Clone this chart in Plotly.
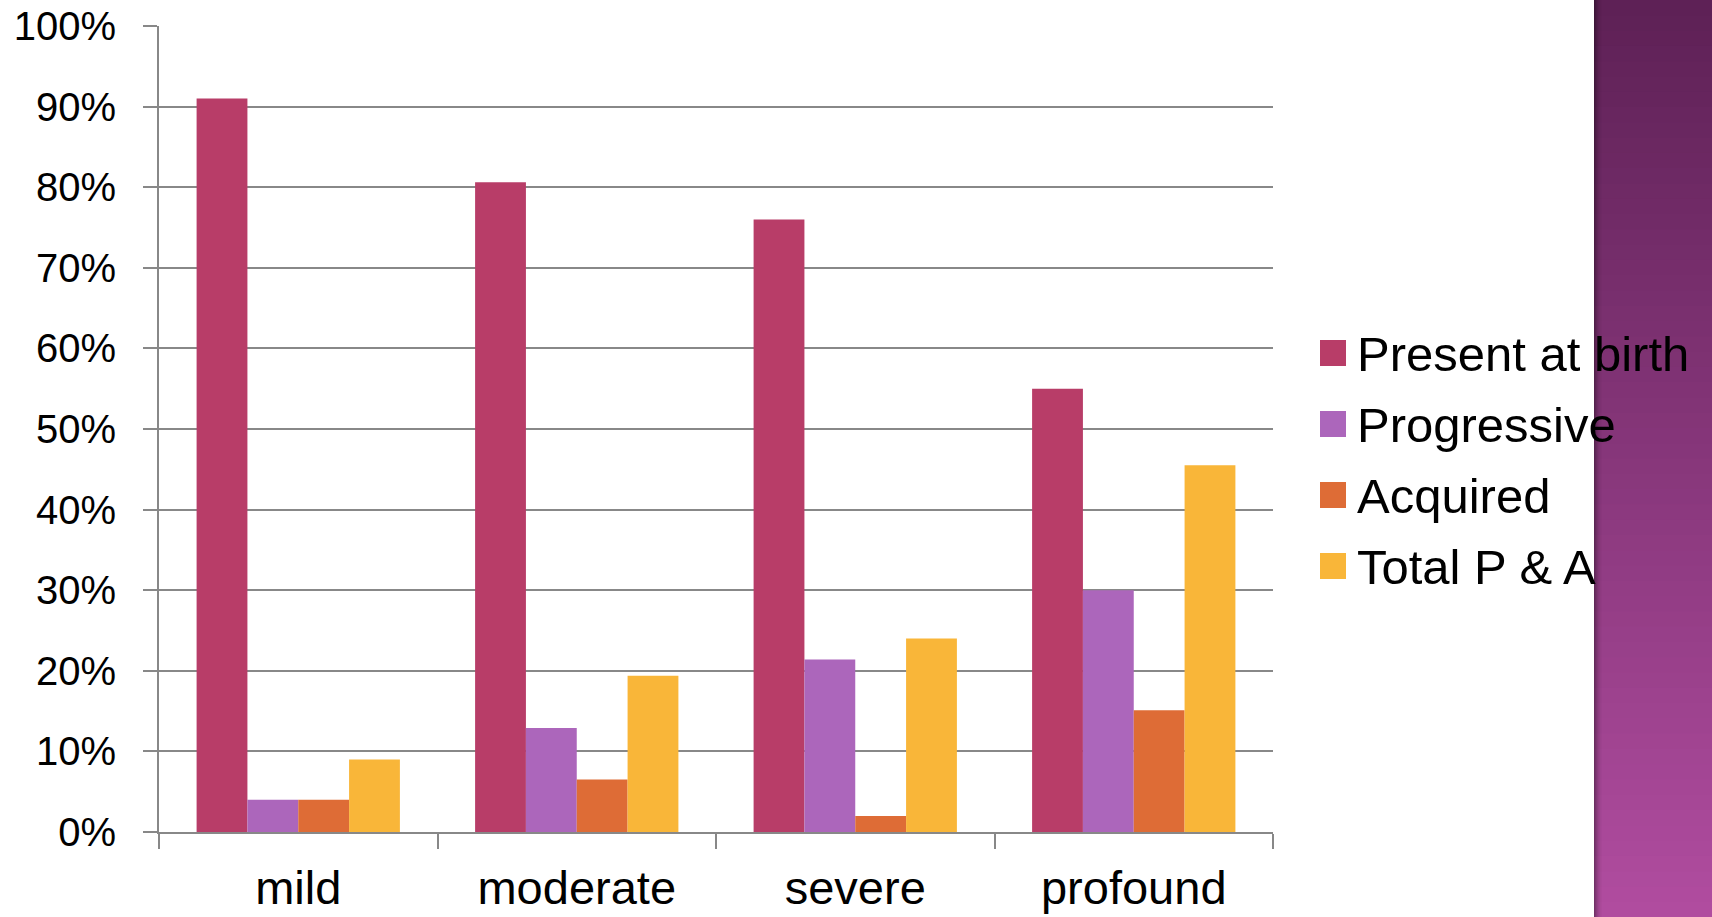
import plotly.graph_objects as go

categories = ["mild", "moderate", "severe", "profound"]
series_names = ["Present at birth", "Progressive", "Acquired", "Total P & A"]
present_at_birth = [0.91, 0.806, 0.76, 0.55]
progressive = [0.04, 0.129, 0.214, 0.30]
acquired = [0.04, 0.065, 0.02, 0.151]
total_p_a = [0.09, 0.194, 0.24, 0.455]
colors = ["#B83D68", "#AC66BB", "#DE6C36", "#F9B639"]
y_ticks = [i / 10 for i in range(11)]

W, H = 1712, 917
L, R, T, B = 159, 439, 26, 85
PW, PH = W - L - R, H - T - B


def px_x(p):
    return (p - L) / PW


def px_y(p):
    return (H - B - p) / PH


fig = go.Figure()
for name, vals, col in zip(series_names, [present_at_birth, progressive, acquired, total_p_a], colors):
    fig.add_trace(go.Bar(x=categories, y=vals, name=name, marker=dict(color=col, line=dict(width=0)),
                         showlegend=False))

shapes = []
# purple gradient band on the right
top = (0x5E, 0x21, 0x56)
bot = (0xB0, 0x4C, 0x9F)
n = 60
for i in range(n):
    t = i / (n - 1)
    c = tuple(int(round(top[k] + (bot[k] - top[k]) * t)) for k in range(3))
    y0 = i * H / n
    y1 = (i + 1) * H / n + 1
    shapes.append(dict(type="rect", xref="paper", yref="paper", x0=px_x(1594), x1=px_x(1713),
                       y0=px_y(y1), y1=px_y(y0), fillcolor="rgb(%d,%d,%d)" % c, line=dict(width=0),
                       layer="below"))
# shadow at left edge of band
for j, a in enumerate([0.35, 0.28, 0.22, 0.16, 0.11, 0.07, 0.04, 0.02]):
    shapes.append(dict(type="rect", xref="paper", yref="paper", x0=px_x(1594 + j), x1=px_x(1595 + j),
                       y0=px_y(H + 1), y1=px_y(-1), fillcolor="rgba(0,0,0,%.2f)" % a, line=dict(width=0),
                       layer="below"))

annotations = []
for i, (name, col) in enumerate(zip(series_names, colors)):
    cy = 353 + i * 71
    shapes.append(dict(type="rect", xref="paper", yref="paper", x0=px_x(1320), x1=px_x(1346),
                       y0=px_y(cy + 13), y1=px_y(cy - 13), fillcolor=col, line=dict(width=0)))
    annotations.append(dict(text=name, xref="paper", yref="paper", x=px_x(1355), y=px_y(cy + 1),
                            xanchor="left", yanchor="middle", showarrow=False,
                            font=dict(family="Liberation Sans", size=49, color="black")))

grid = "#888888"
fig.update_layout(
    width=W, height=H,
    margin=dict(l=L, r=R, t=T, b=B, pad=0, autoexpand=False),
    paper_bgcolor="white", plot_bgcolor="white",
    barmode="group", bargap=0.27, bargroupgap=0,
    font=dict(family="Liberation Sans", color="black"),
    shapes=shapes, annotations=annotations,
    showlegend=False,
    xaxis=dict(showline=True, linecolor=grid, linewidth=2, ticks="outside", ticklen=15,
               tickcolor=grid, tickwidth=2, tickson="boundaries", showgrid=False, automargin=False,
               tickfont=dict(size=47, color="black"), ticklabelstandoff=14),
    yaxis=dict(range=[0, 1], tickvals=y_ticks, tickformat=".0%", showline=True, linecolor=grid,
               linewidth=2, ticks="outside", ticklen=14, tickcolor=grid, tickwidth=2, automargin=False,
               showgrid=True, gridcolor=grid, gridwidth=2, zeroline=False,
               tickfont=dict(size=40, color="black"), ticklabelstandoff=19),
)

fig.write_html("out.html", post_script="document.body.style.margin='0';document.body.style.overflow='hidden';")
